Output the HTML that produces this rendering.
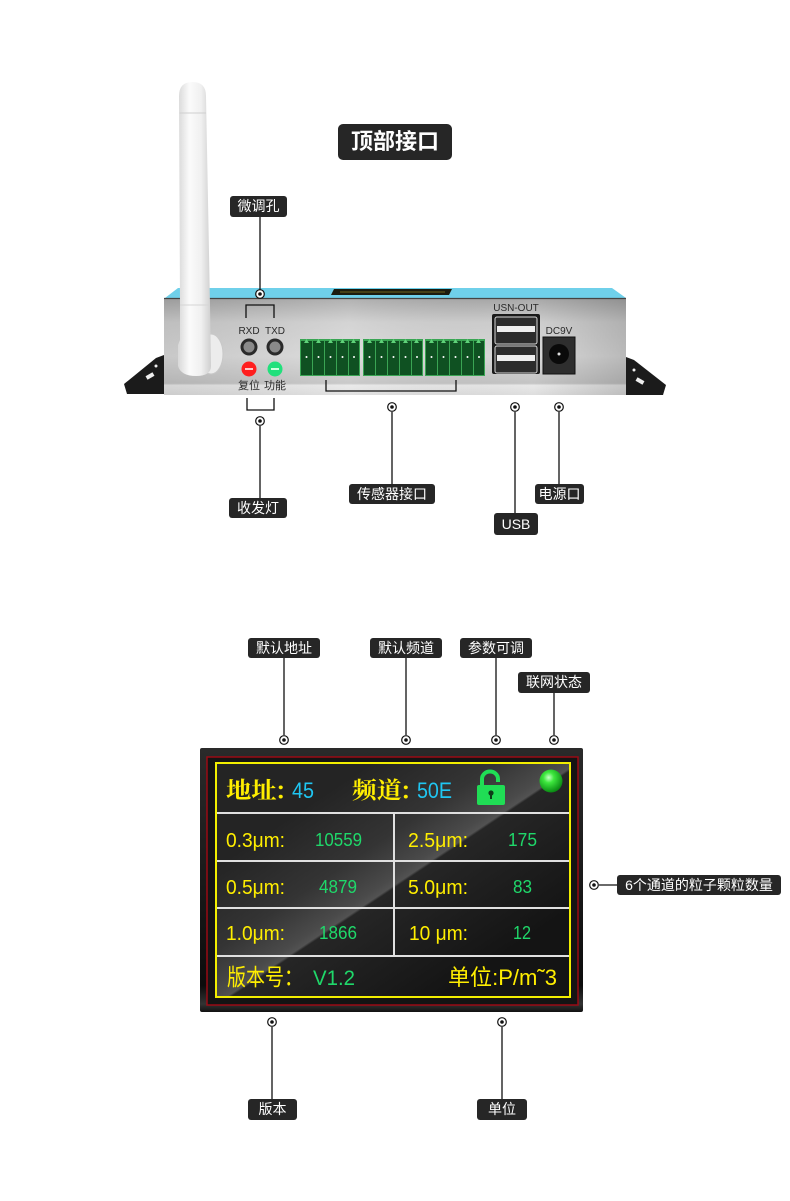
<!DOCTYPE html>
<html>
<head>
<meta charset="utf-8">
<style>
html,body{margin:0;padding:0;background:#fff;}
body{width:790px;height:1201px;position:relative;overflow:hidden;font-family:"Liberation Sans","Noto Sans CJK SC",sans-serif;}
svg{position:absolute;left:0;top:0;}
.tag{position:absolute;background:#262626;color:#fff;border-radius:3px;text-align:center;font-size:14px;font-family:"Liberation Sans","Noto Sans CJK SC",sans-serif;white-space:nowrap;}
.title{position:absolute;background:#262626;color:#fff;border-radius:5px;text-align:center;font-size:22px;font-weight:bold;font-family:"Liberation Sans","Noto Sans CJK SC",sans-serif;}
</style>
</head>
<body>
<svg width="790" height="1201" viewBox="0 0 790 1201" xmlns="http://www.w3.org/2000/svg">
<defs>
  <linearGradient id="silver" x1="0" y1="0" x2="0" y2="1">
    <stop offset="0" stop-color="#a8a8a8"/>
    <stop offset="0.25" stop-color="#cfcfcf"/>
    <stop offset="0.6" stop-color="#dadada"/>
    <stop offset="0.88" stop-color="#c4c4c4"/>
    <stop offset="0.9" stop-color="#e8e8e8"/>
    <stop offset="1" stop-color="#dedede"/>
  </linearGradient>
  <linearGradient id="silverH" x1="0" y1="0" x2="1" y2="0">
    <stop offset="0" stop-color="#000" stop-opacity="0.08"/>
    <stop offset="0.4" stop-color="#fff" stop-opacity="0.1"/>
    <stop offset="0.8" stop-color="#000" stop-opacity="0"/>
    <stop offset="1" stop-color="#000" stop-opacity="0.15"/>
  </linearGradient>
  <linearGradient id="ant" x1="0" y1="0" x2="1" y2="0">
    <stop offset="0" stop-color="#d8d8d8"/>
    <stop offset="0.35" stop-color="#fbfbfb"/>
    <stop offset="0.7" stop-color="#f0f0f0"/>
    <stop offset="1" stop-color="#cfcfcf"/>
  </linearGradient>
  <linearGradient id="scr" gradientUnits="userSpaceOnUse" x1="330" y1="790" x2="460" y2="985">
    <stop offset="0" stop-color="#242424"/>
    <stop offset="0.3" stop-color="#343434"/>
    <stop offset="0.46" stop-color="#4a4a4a"/>
    <stop offset="0.49" stop-color="#525252"/>
    <stop offset="0.5" stop-color="#262626"/>
    <stop offset="1" stop-color="#141414"/>
  </linearGradient>
  <linearGradient id="bez" x1="0" y1="0" x2="0" y2="1">
    <stop offset="0" stop-color="#2a2a2a"/>
    <stop offset="0.9" stop-color="#0c0c0c"/>
    <stop offset="0.97" stop-color="#333"/>
    <stop offset="1" stop-color="#111"/>
  </linearGradient>
  <radialGradient id="gdot" cx="0.4" cy="0.35" r="0.65">
    <stop offset="0" stop-color="#c8ffc8"/>
    <stop offset="0.35" stop-color="#3ee83e"/>
    <stop offset="1" stop-color="#0a8a14"/>
  </radialGradient>
</defs>

<!-- ====== DEVICE ====== -->
<polygon points="164,355 156,358 124,384 127,394 164,394" fill="#1b1b1b"/>
<rect x="146" y="374" width="8" height="4" fill="#eee" transform="rotate(-30 150 376)"/>
<circle cx="156" cy="366" r="1.5" fill="#eee"/>
<polygon points="626,357 634,360 666,385 663,395 626,395" fill="#1b1b1b"/>
<rect x="636" y="379" width="8" height="4" fill="#eee" transform="rotate(30 640 381)"/>
<circle cx="634" cy="370" r="1.5" fill="#eee"/>

<polygon points="165,298 178,288 612,288 626,298" fill="#6fd0ea"/>
<polygon points="334,289 452,289 449,295 331,295" fill="#1c1c10"/>
<line x1="340" y1="292" x2="445" y2="292" stroke="#8a7a20" stroke-width="0.8"/>
<rect x="164" y="298" width="462" height="97" fill="url(#silver)"/>
<rect x="164" y="298" width="462" height="97" fill="url(#silverH)"/>
<line x1="164" y1="298.5" x2="626" y2="298.5" stroke="#444" stroke-width="1.2"/>

<ellipse cx="211" cy="354" rx="12" ry="20" fill="#ececec" stroke="#c8c8c8" stroke-width="1"/>
<path d="M179,96 Q179,82 192.5,82 Q206,82 206,96 L210,305 L211,366 Q211,376 196,376 Q181,376 178,366 L178,345 L180,340 L180,305 Z" fill="url(#ant)"/>
<line x1="179.5" y1="113" x2="206" y2="113" stroke="#cfcfcf" stroke-width="1"/>
<line x1="180" y1="305" x2="210" y2="305" stroke="#d5d5d5" stroke-width="1"/>

<text x="249" y="334" font-size="10" fill="#2a2a2a" text-anchor="middle" font-family="Liberation Sans, sans-serif">RXD</text>
<text x="275" y="334" font-size="10" fill="#2a2a2a" text-anchor="middle" font-family="Liberation Sans, sans-serif">TXD</text>
<circle cx="249" cy="347" r="8.5" fill="#2a2a2a"/><circle cx="249" cy="347" r="5.5" fill="#8a8a8a"/>
<circle cx="275" cy="347" r="8.5" fill="#2a2a2a"/><circle cx="275" cy="347" r="5.5" fill="#8a8a8a"/>
<circle cx="249" cy="369" r="7.5" fill="#ff1e1e"/><rect x="245" y="368" width="8" height="2" fill="#ffc8c8"/>
<circle cx="275" cy="369" r="7.5" fill="#22e07c"/><rect x="271" y="368" width="8" height="2" fill="#d0ffe0"/>
<text x="249" y="389" font-size="11" fill="#2a2a2a" text-anchor="middle" font-family="Noto Sans CJK SC, sans-serif">复位</text>
<text x="275" y="389" font-size="11" fill="#2a2a2a" text-anchor="middle" font-family="Noto Sans CJK SC, sans-serif">功能</text>

<g id="tb">
  <rect x="300" y="339" width="60" height="37" fill="#3aa554"/>
  <rect x="301" y="341" width="11" height="34" fill="#0f5122"/>
  <rect x="313" y="341" width="11" height="34" fill="#0f5122"/>
  <rect x="325" y="341" width="11" height="34" fill="#0f5122"/>
  <rect x="337" y="341" width="11" height="34" fill="#0f5122"/>
  <rect x="349" y="341" width="10" height="34" fill="#0f5122"/>
  <polygon points="304,343 306.5,339 309,343" fill="#5fd27a"/>
  <polygon points="316,343 318.5,339 321,343" fill="#5fd27a"/>
  <polygon points="328,343 330.5,339 333,343" fill="#5fd27a"/>
  <polygon points="340,343 342.5,339 345,343" fill="#5fd27a"/>
  <polygon points="351,343 353.5,339 356,343" fill="#5fd27a"/>
  <circle cx="306.5" cy="357" r="1" fill="#fff"/>
  <circle cx="318.5" cy="357" r="1" fill="#fff"/>
  <circle cx="330.5" cy="357" r="1" fill="#fff"/>
  <circle cx="342.5" cy="357" r="1" fill="#fff"/>
  <circle cx="354" cy="357" r="1" fill="#fff"/>
</g>
<use href="#tb" x="63" y="0"/>
<use href="#tb" x="125" y="0"/>

<text x="516" y="311" font-size="10" fill="#2a2a2a" text-anchor="middle" font-family="Liberation Sans, sans-serif">USN-OUT</text>
<rect x="492" y="314" width="48" height="60" rx="2" fill="#1a1a1a"/>
<rect x="495" y="317" width="42" height="27" rx="2" fill="#2c2c2c" stroke="#d8d8d8" stroke-width="1"/>
<rect x="497" y="326" width="38" height="6" fill="#eeeeee"/>
<rect x="495" y="346" width="42" height="27" rx="2" fill="#2c2c2c" stroke="#d8d8d8" stroke-width="1"/>
<rect x="497" y="355" width="38" height="6" fill="#eeeeee"/>
<text x="559" y="334" font-size="10" fill="#2a2a2a" text-anchor="middle" font-family="Liberation Sans, sans-serif">DC9V</text>
<rect x="543" y="337" width="32" height="37" fill="#2e2e2e" stroke="#111" stroke-width="1"/>
<circle cx="559" cy="354" r="10" fill="#0a0a0a"/>
<circle cx="559" cy="354" r="1.5" fill="#ddd"/>

<g stroke="#111" stroke-width="1.3" fill="none">
  <line x1="260" y1="217" x2="260" y2="290"/>
  <polyline points="246,318 246,305 274,305 274,318"/>
  <polyline points="247,398 247,410 274,410 274,398"/>
  <line x1="260" y1="426" x2="260" y2="498"/>
  <polyline points="326,380 326,391 456,391 456,380"/>
  <line x1="392" y1="412" x2="392" y2="484"/>
  <line x1="515" y1="412" x2="515" y2="513"/>
  <line x1="559" y1="412" x2="559" y2="484"/>
  <line x1="284" y1="658" x2="284" y2="735"/>
  <line x1="406" y1="658" x2="406" y2="735"/>
  <line x1="496" y1="658" x2="496" y2="735"/>
  <line x1="554" y1="693" x2="554" y2="735"/>
  <line x1="599" y1="885" x2="617" y2="885"/>
  <line x1="272" y1="1027" x2="272" y2="1099"/>
  <line x1="502" y1="1027" x2="502" y2="1099"/>
</g>
<g fill="#fff" stroke="#111" stroke-width="1.2">
  <circle cx="260" cy="294" r="4.3"/>
  <circle cx="260" cy="421" r="4.3"/>
  <circle cx="392" cy="407" r="4.3"/>
  <circle cx="515" cy="407" r="4.3"/>
  <circle cx="559" cy="407" r="4.3"/>
  <circle cx="284" cy="740" r="4.3"/>
  <circle cx="406" cy="740" r="4.3"/>
  <circle cx="496" cy="740" r="4.3"/>
  <circle cx="554" cy="740" r="4.3"/>
  <circle cx="594" cy="885" r="4.3"/>
  <circle cx="272" cy="1022" r="4.3"/>
  <circle cx="502" cy="1022" r="4.3"/>
</g>
<g fill="#111">
  <circle cx="260" cy="294" r="1.8"/>
  <circle cx="260" cy="421" r="1.8"/>
  <circle cx="392" cy="407" r="1.8"/>
  <circle cx="515" cy="407" r="1.8"/>
  <circle cx="559" cy="407" r="1.8"/>
  <circle cx="284" cy="740" r="1.8"/>
  <circle cx="406" cy="740" r="1.8"/>
  <circle cx="496" cy="740" r="1.8"/>
  <circle cx="554" cy="740" r="1.8"/>
  <circle cx="594" cy="885" r="1.8"/>
  <circle cx="272" cy="1022" r="1.8"/>
  <circle cx="502" cy="1022" r="1.8"/>
</g>

<rect x="200" y="748" width="383" height="264" rx="2" fill="url(#bez)"/>
<rect x="207" y="757" width="371" height="248" fill="#141414" stroke="#9a0a14" stroke-width="1.5"/>
<rect x="216" y="763" width="354" height="234" fill="url(#scr)"/>
<rect x="216" y="763" width="354" height="234" fill="none" stroke="#f2ee00" stroke-width="2"/>
<g stroke="#e0e0e0" stroke-width="2">
  <line x1="217" y1="813" x2="569" y2="813"/>
  <line x1="217" y1="861" x2="569" y2="861"/>
  <line x1="217" y1="908" x2="569" y2="908"/>
  <line x1="217" y1="956" x2="569" y2="956"/>
  <line x1="394" y1="813" x2="394" y2="956"/>
</g>

<text x="226" y="798" font-size="23" fill="#ffee00" font-weight="bold" font-family="Noto Serif CJK SC, Noto Sans CJK SC, serif" textLength="59" lengthAdjust="spacingAndGlyphs">地址:</text>
<text x="292" y="798" font-size="22" fill="#1fc6f2" font-family="Liberation Sans, sans-serif" textLength="22" lengthAdjust="spacingAndGlyphs">45</text>
<text x="352" y="798" font-size="23" fill="#ffee00" font-weight="bold" font-family="Noto Serif CJK SC, Noto Sans CJK SC, serif" textLength="58" lengthAdjust="spacingAndGlyphs">频道:</text>
<text x="417" y="798" font-size="22" fill="#1fc6f2" font-family="Liberation Sans, sans-serif" textLength="35" lengthAdjust="spacingAndGlyphs">50E</text>
<path d="M482,786 L482,779 A8,7.5 0 0 1 498,779 L498,782" fill="none" stroke="#20dd55" stroke-width="4"/>
<rect x="477" y="785" width="28" height="20" rx="2" fill="#20dd55"/>
<circle cx="491" cy="793" r="2.6" fill="#0d3d18"/>
<rect x="490" y="793" width="2" height="6" fill="#0d3d18"/>
<circle cx="551" cy="781" r="11.5" fill="url(#gdot)"/>

<g font-family="Liberation Sans, sans-serif">
  <text x="226" y="847" font-size="20" fill="#ffee00" textLength="59" lengthAdjust="spacingAndGlyphs">0.3μm:</text>
  <text x="315" y="846" font-size="18" fill="#1fd86a" textLength="47" lengthAdjust="spacingAndGlyphs">10559</text>
  <text x="408" y="847" font-size="20" fill="#ffee00" textLength="60" lengthAdjust="spacingAndGlyphs">2.5μm:</text>
  <text x="508" y="846" font-size="18" fill="#1fd86a" textLength="29" lengthAdjust="spacingAndGlyphs">175</text>

  <text x="226" y="894" font-size="20" fill="#ffee00" textLength="59" lengthAdjust="spacingAndGlyphs">0.5μm:</text>
  <text x="319" y="893" font-size="18" fill="#1fd86a" textLength="38" lengthAdjust="spacingAndGlyphs">4879</text>
  <text x="408" y="894" font-size="20" fill="#ffee00" textLength="60" lengthAdjust="spacingAndGlyphs">5.0μm:</text>
  <text x="513" y="893" font-size="18" fill="#1fd86a" textLength="19" lengthAdjust="spacingAndGlyphs">83</text>

  <text x="226" y="940" font-size="20" fill="#ffee00" textLength="59" lengthAdjust="spacingAndGlyphs">1.0μm:</text>
  <text x="319" y="939" font-size="18" fill="#1fd86a" textLength="38" lengthAdjust="spacingAndGlyphs">1866</text>
  <text x="409" y="940" font-size="20" fill="#ffee00" textLength="59" lengthAdjust="spacingAndGlyphs">10 μm:</text>
  <text x="513" y="939" font-size="18" fill="#1fd86a" textLength="18" lengthAdjust="spacingAndGlyphs">12</text>
</g>

<text x="227" y="985" font-size="23" fill="#ffee00" font-family="Noto Sans CJK SC, sans-serif" textLength="76" lengthAdjust="spacingAndGlyphs">版本号：</text>
<text x="313" y="985" font-size="21" fill="#1fd86a" font-family="Liberation Sans, sans-serif" textLength="42" lengthAdjust="spacingAndGlyphs">V1.2</text>
<text x="448" y="985" font-size="22" fill="#ffee00" font-family="Liberation Sans, Noto Sans CJK SC, sans-serif" textLength="109" lengthAdjust="spacingAndGlyphs">单位:P/m˜3</text>
</svg>

<div class="title" style="left:338px;top:124px;width:114px;height:36px;line-height:36px;">顶部接口</div>
<div class="tag" style="left:230px;top:196px;width:57px;height:21px;line-height:21px;">微调孔</div>
<div class="tag" style="left:229px;top:498px;width:58px;height:20px;line-height:20px;">收发灯</div>
<div class="tag" style="left:349px;top:484px;width:86px;height:20px;line-height:20px;">传感器接口</div>
<div class="tag" style="left:494px;top:513px;width:44px;height:22px;line-height:22px;">USB</div>
<div class="tag" style="left:535px;top:484px;width:49px;height:20px;line-height:20px;">电源口</div>
<div class="tag" style="left:248px;top:638px;width:72px;height:20px;line-height:20px;">默认地址</div>
<div class="tag" style="left:370px;top:638px;width:72px;height:20px;line-height:20px;">默认频道</div>
<div class="tag" style="left:460px;top:638px;width:72px;height:20px;line-height:20px;">参数可调</div>
<div class="tag" style="left:518px;top:672px;width:72px;height:21px;line-height:21px;">联网状态</div>
<div class="tag" style="left:617px;top:875px;width:164px;height:20px;line-height:20px;">6个通道的粒子颗粒数量</div>
<div class="tag" style="left:248px;top:1099px;width:49px;height:21px;line-height:21px;">版本</div>
<div class="tag" style="left:477px;top:1099px;width:50px;height:21px;line-height:21px;">单位</div>
</body>
</html>
